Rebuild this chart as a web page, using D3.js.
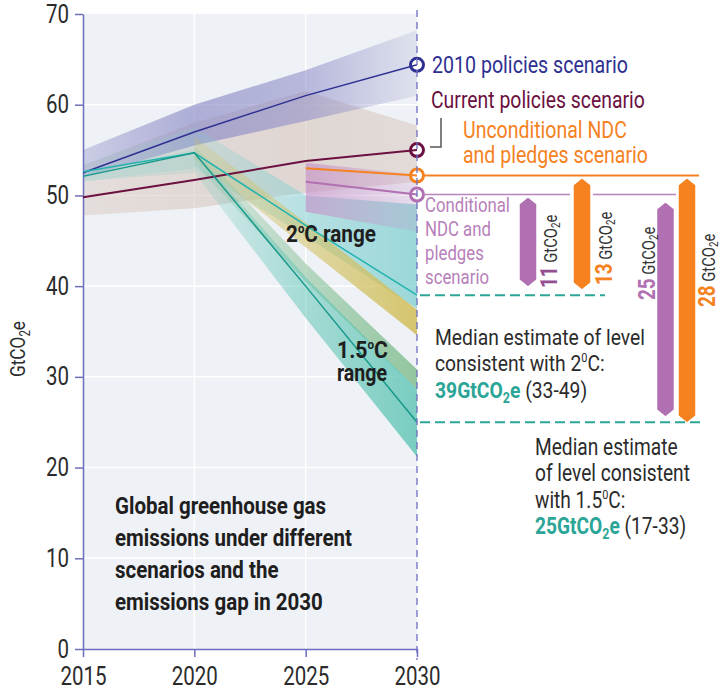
<!DOCTYPE html>
<html>
<head>
<meta charset="utf-8">
<script src="https://cdn.jsdelivr.net/npm/d3@7"></script>
<style>
body { margin: 0; background: #fff; }
svg { display: block; }
</style>
</head>
<body>
<svg id="chart"></svg>
<script>
const width = 722, height = 691;
const FONT = "Roboto, 'Noto Sans', sans-serif";
const SX = 0.82; // squeeze to mimic the condensed face of the original

// data (GtCO2e)
const years = [2015, 2020, 2025, 2030];
const ndcYears = [2025, 2030];
const lateYears = [2020, 2025, 2030];
const yTicks = [0, 10, 20, 30, 40, 50, 60, 70];

const policies2010 = [52.5, 57.0, 61.0, 64.4];
const currentPolicies = [49.8, 51.7, 53.8, 55.0];
const unconditionalNdc = [53.0, 52.2];
const conditionalNdc = [51.5, 50.1];
const median2C = [52.6, 54.7, 46.7, 39.0];
const median15C = [52.1, 54.7, 40.0, 25.0];

const band2010Low = [52.0, 55.5, 58.2, 61.0];
const band2010High = [55.0, 60.0, 63.8, 68.2];
const bandCurrentLow = [47.8, 48.6, 50.3, 51.5];
const bandCurrentHigh = [53.3, 58.0, 61.5, 57.7];
const bandNdcLow = [48.2, 46.0];
const bandNdcHigh = [53.6, 52.3];
const band2CLow = [51.5, 53.0, 45.5, 37.5];
const band2CHigh = [53.5, 57.5, 50.0, 49.0];
const bandKhakiLow = [54.0, 44.3, 34.6];
const bandKhakiHigh = [56.5, 47.0, 37.4];
const bandGreenLow = [53.5, 40.5, 28.6];
const bandGreenHigh = [55.5, 42.5, 30.8];
const band15Low = [51.6, 52.5, 36.5, 21.2];
const band15High = [52.6, 55.0, 41.0, 28.6];

const gapLabels = ['11', '13', '25', '28'];
const gapFrom = [50.1, 52.2, 50.1, 52.2];
const gapTo = [39, 39, 25, 25];
const target2C = 39, target15C = 25;

// layout
const navy = '#2e3192', maroon = '#6b1040', orange = '#f5821f', purple = '#b070b2', teal = '#2aa597';
const gapColors = [purple, orange, purple, orange];
const gapNumColors = ['#944f93', orange, '#b070b2', orange];
const gapCx = [528, 582, 665.5, 687];
const gapTopPad = [4, 4, 9, 4];
const gapBotPad = [10, 7, 7, 1];
const gapTextX = [557, 612, 655, 715];
const gapTextY = [288, 285, 300, 307];

const svg = d3.select('#chart').attr('width', width).attr('height', height)
    .style('font-family', FONT);
const defs = svg.append('defs');

const x = d3.scaleLinear().domain([2015, 2030]).range([83, 417]);
const y = d3.scaleLinear().domain([0, 70]).range([649, 14]);

function place(sel, xp, yp, rot, sx) {
    return sel.attr('transform', `translate(${xp},${yp})` + (rot ? ` rotate(${rot})` : '') + ` scale(${sx || SX},1)`);
}
// squeeze a text so that one of its lines gets the width it has in the original
function fit(t, xp, yp, node, target) {
    const w = node.getComputedTextLength();
    return place(t, xp, yp, 0, target / w);
}

// plot background + grid
svg.append('rect')
    .attr('x', x(2015)).attr('y', y(70))
    .attr('width', x(2030) - x(2015)).attr('height', y(0) - y(70))
    .attr('fill', '#eef1f5');
svg.append('g').selectAll('line').data(yTicks.slice(1, -1)).join('line')
    .attr('x1', x(2015)).attr('x2', x(2030))
    .attr('y1', d => y(d)).attr('y2', d => y(d))
    .attr('stroke', '#fff').attr('stroke-width', 1.5);
svg.append('g').selectAll('line').data([2020, 2025]).join('line')
    .attr('x1', d => x(d)).attr('x2', d => x(d))
    .attr('y1', y(70)).attr('y2', y(0))
    .attr('stroke', '#fff').attr('stroke-width', 1.5);

function drawBand(id, yrs, low, high, color, opac) {
    const grad = defs.append('linearGradient').attr('id', id)
        .attr('gradientUnits', 'userSpaceOnUse')
        .attr('x1', x(2015)).attr('x2', x(2030)).attr('y1', 0).attr('y2', 0);
    yrs.forEach((yr, i) => {
        grad.append('stop').attr('offset', (yr - 2015) / 15)
            .attr('stop-color', color).attr('stop-opacity', opac[i]);
    });
    const pts = yrs.map((yr, i) => ({yr, lo: low[i], hi: high[i]}));
    svg.append('path').datum(pts)
        .attr('d', d3.area().x(d => x(d.yr)).y0(d => y(d.lo)).y1(d => y(d.hi)))
        .attr('fill', `url(#${id})`);
}

drawBand('gCur', years, bandCurrentLow, bandCurrentHigh, '#d6c5bc', [0.45, 0.55, 0.6, 0.5]);
drawBand('g2010', years, band2010Low, band2010High, '#8a89c6', [0.35, 0.65, 0.55, 0.15]);
drawBand('g2C', years, band2CLow, band2CHigh, '#7fcfd0', [0.15, 0.2, 0.5, 0.75]);
drawBand('gKhaki', lateYears, bandKhakiLow, bandKhakiHigh, '#d2c060', [0.2, 0.55, 0.9]);
drawBand('gGreen', lateYears, bandGreenLow, bandGreenHigh, '#88c196', [0.2, 0.55, 0.9]);
drawBand('g15', years, band15Low, band15High, '#5cc4b4', [0.15, 0.15, 0.5, 0.8]);
drawBand('gNdc', ndcYears, bandNdcLow, bandNdcHigh, '#c590c8', [0.65, 0.2]);

// axes
const yAxis = svg.append('g').attr('transform', `translate(${x(2015)},0)`)
    .call(d3.axisLeft(y).tickValues(yTicks).tickSize(8).tickSizeOuter(0).tickPadding(6));
const xAxis = svg.append('g').attr('transform', `translate(0,${y(0)})`)
    .call(d3.axisBottom(x).tickValues(years).tickFormat(d3.format('d')).tickSize(8).tickSizeOuter(0).tickPadding(10));
[yAxis, xAxis].forEach(a => {
    a.select('.domain').attr('stroke', '#6e6ebf').attr('stroke-width', 1.5);
    a.selectAll('.tick line').attr('stroke', '#6e6ebf').attr('stroke-width', 1.5);
    a.selectAll('.tick text').each(function () {
        const t = d3.select(this);
        t.attr('x', (+t.attr('x') || 0) / SX).attr('transform', `scale(${SX},1)`);
    }).attr('fill', '#2b2b2b').style('font-size', '25px').style('font-family', FONT);
});

place(svg.append('text'), 25, 349, -90)
    .attr('text-anchor', 'middle').attr('fill', '#2b2b2b').style('font-size', '21px')
    .call(t => {
        t.append('tspan').text('GtCO');
        t.append('tspan').attr('dy', 5).style('font-size', '14px').text('2');
        t.append('tspan').attr('dy', -5).text('e');
    });

// marker circles (behind lines)
const markers = [
    [policies2010[3], navy], [currentPolicies[3], maroon],
    [unconditionalNdc[1], orange], [conditionalNdc[1], purple]
];
svg.append('g').selectAll('circle').data(markers).join('circle')
    .attr('cx', x(2030)).attr('cy', d => y(d[0])).attr('r', 6.5)
    .attr('fill', '#fff').attr('stroke', d => d[1]).attr('stroke-width', 3);

// scenario lines
const line = d3.line().x(d => x(d[0])).y(d => y(d[1]));
function drawLine(yrs, vals, color, w) {
    svg.append('path').datum(yrs.map((yr, i) => [yr, vals[i]]))
        .attr('d', line).attr('fill', 'none')
        .attr('stroke', color).attr('stroke-width', w);
}
drawLine(years, policies2010, navy, 1.5);
drawLine(years, currentPolicies, maroon, 2);
drawLine(ndcYears, unconditionalNdc, orange, 2);
drawLine(ndcYears, conditionalNdc, purple, 2);
drawLine(years, median2C, '#22b3b0', 1.5);
drawLine(years, median15C, '#17998a', 1.5);

// 2030 dashed marker line
svg.append('line')
    .attr('x1', x(2030)).attr('x2', x(2030)).attr('y1', 10).attr('y2', 660)
    .attr('stroke', '#6e6ebf').attr('stroke-width', 1.3).attr('stroke-dasharray', '7,5');

// reference lines to the right
svg.append('line').attr('x1', x(2030) + 7).attr('x2', 699)
    .attr('y1', y(unconditionalNdc[1])).attr('y2', y(unconditionalNdc[1]))
    .attr('stroke', orange).attr('stroke-width', 2);
[[x(2030) + 7, 570], [593, 676]].forEach(s => {
    svg.append('line').attr('x1', s[0]).attr('x2', s[1])
        .attr('y1', y(conditionalNdc[1])).attr('y2', y(conditionalNdc[1]))
        .attr('stroke', '#b983bb').attr('stroke-width', 1.5);
});
[[target2C, 605], [target15C, 704]].forEach(s => {
    svg.append('line').attr('x1', x(2030) + 3).attr('x2', s[1])
        .attr('y1', y(s[0])).attr('y2', y(s[0]))
        .attr('stroke', teal).attr('stroke-width', 2).attr('stroke-dasharray', '10,5');
});

// gap bars
const bw = 15, tip = 6;
gapLabels.forEach((lab, i) => {
    const cx = gapCx[i];
    const top = y(gapFrom[i]) + gapTopPad[i], bot = y(gapTo[i]) - gapBotPad[i];
    const pts = [[cx - bw / 2, top + tip], [cx, top], [cx + bw / 2, top + tip],
                 [cx + bw / 2, bot - tip], [cx, bot], [cx - bw / 2, bot - tip]];
    svg.append('path').attr('d', 'M' + pts.join('L') + 'Z')
        .attr('fill', gapColors[i]).attr('stroke', gapColors[i])
        .attr('stroke-width', 1.5).attr('stroke-linejoin', 'round');
    const t = place(svg.append('text'), gapTextX[i], gapTextY[i], -90);
    t.append('tspan').attr('fill', gapNumColors[i]).style('font-weight', 'bold')
        .style('font-size', '23px').text(lab);
    t.append('tspan').attr('fill', '#333').style('font-size', '18px').text(' GtCO');
    t.append('tspan').attr('fill', '#333').style('font-size', '12px').attr('dy', 3).text('2');
    t.append('tspan').attr('fill', '#333').style('font-size', '18px').attr('dy', -3).text('e');
});

// scenario labels
function label(xp, yp, lines, color, size, lh, target, ref) {
    const t = svg.append('text').attr('fill', color).style('font-size', size + 'px');
    const spans = lines.map((s, i) => t.append('tspan').attr('x', 0).attr('dy', i ? lh : 0).text(s));
    return fit(t, xp, yp, spans[ref || 0].node(), target);
}
label(432, 73, ['2010 policies scenario'], navy, 23, 0, 196);
label(431, 108, ['Current policies scenario'], maroon, 23, 0, 214);
label(463, 138, ['Unconditional NDC', 'and pledges scenario'], orange, 23, 25, 185, 1);
label(425, 212, ['Conditional', 'NDC and', 'pledges', 'scenario'], '#b77fba', 20, 24, 85);
svg.append('path').attr('d', 'M441,118V147H430')
    .attr('fill', 'none').attr('stroke', '#555').attr('stroke-width', 1.5);

// range labels
function degText(xp, yp, before, after, size, target) {
    const t = svg.append('text')
        .attr('fill', '#1e1e1e').style('font-weight', 'bold').style('font-size', size + 'px');
    t.append('tspan').text(before);
    t.append('tspan').attr('dy', -9).style('font-size', (size * 0.55) + 'px').text('o');
    t.append('tspan').attr('dy', 9).text(after);
    return fit(t, xp, yp, t.node(), target);
}
degText(286, 242, '2', 'C range', 23, 90);
degText(337, 358, '1.5', 'C', 23, 51);
const rng = svg.append('text')
    .attr('fill', '#1e1e1e').style('font-weight', 'bold').style('font-size', '23px').text('range');
fit(rng, 337, 381, rng.node(), 50);

// median estimate notes
function note(xp, yp, lines, value, range, ref, target) {
    const t = svg.append('text').attr('fill', '#2b2b2b').style('font-size', '23px');
    let refNode;
    lines.forEach((s, i) => {
        const ts = t.append('tspan').attr('x', 0).attr('dy', i ? 26.5 : 0);
        if (i === ref) refNode = ts.node();
        if (s.indexOf('|') >= 0) {
            const parts = s.split('|');
            ts.text(parts[0]);
            t.append('tspan').attr('dy', -9).style('font-size', '13px').text('0');
            t.append('tspan').attr('dy', 9).text(parts[1]);
        } else {
            ts.text(s);
        }
    });
    t.append('tspan').attr('x', 0).attr('dy', 26.5).attr('fill', teal)
        .style('font-weight', 'bold').text(value + 'GtCO');
    t.append('tspan').attr('dy', 5).attr('fill', teal).style('font-weight', 'bold')
        .style('font-size', '15px').text('2');
    t.append('tspan').attr('dy', -5).attr('fill', teal).style('font-weight', 'bold').text('e');
    t.append('tspan').text(' (' + range + ')');
    fit(t, xp, yp, refNode, target);
}
note(435, 345, ['Median estimate of level', 'consistent with 2|C:'], target2C, '33-49', 0, 210);
note(535, 455, ['Median estimate', 'of level consistent', 'with 1.5|C:'], target15C, '17-33', 1, 155);

// title
label(115, 514, ['Global greenhouse gas', 'emissions under different', 'scenarios and the', 'emissions gap in 2030'],
    '#1e1e1e', 24, 32, 233, 1)
    .style('font-weight', 'bold');
</script>
</body>
</html>
